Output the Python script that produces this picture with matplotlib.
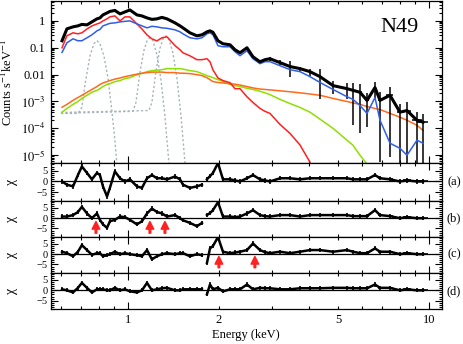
import numpy as np
import matplotlib
matplotlib.use("Agg")
import matplotlib.pyplot as plt
from matplotlib.ticker import FixedLocator, FixedFormatter, NullFormatter, MultipleLocator

plt.rcParams['font.family'] = ['Liberation Serif', 'DejaVu Serif']
plt.rcParams['mathtext.fontset'] = 'stix'

# ---------------- data ----------------
energy = [0.604, 0.627, 0.657, 0.682, 0.703, 0.731, 0.759, 0.789, 0.807, 0.826,
          0.852, 0.871, 0.905, 0.941, 0.977, 1.015, 1.071, 1.113, 1.157, 1.201,
          1.248, 1.297, 1.348, 1.433, 1.489, 1.523, 1.607, 1.695, 1.761, 1.83,
          1.873, 1.916, 1.991, 2.068, 2.183, 2.268, 2.356, 2.485, 2.602, 2.745,
          2.852, 2.963, 3.199, 3.453, 3.728, 4.024, 4.345, 4.799, 5.342, 5.591,
          5.899, 6.224, 6.616, 6.874, 7.42, 8.01, 8.45, 9.12, 9.55]

flux = [0.182, 0.506, 0.60, 0.653, 0.74, 0.711, 0.918, 1.19, 1.29, 1.67,
        1.98, 2.25, 2.45, 1.82, 2.15, 2.55, 1.67, 1.53, 1.29, 1.14,
        1.19, 1.35, 1.19, 0.843, 0.653, 0.55, 0.359, 0.278, 0.303, 0.391,
        0.426, 0.375, 0.182, 0.141, 0.129, 0.084, 0.065, 0.10, 0.046, 0.030,
        0.036, 0.039, 0.028, 0.020, 0.0167, 0.0129, 0.0084, 0.0039, 0.003, 0.0026,
        0.0022, 0.0011, 0.0033, 0.0011, 0.0017, 4.0e-4, 4.6e-4, 2.0e-4, 1.7e-4]

flux_rel_err = [0.04, 0.04, 0.04, 0.04, 0.04, 0.04, 0.04, 0.04, 0.04, 0.04,
                0.04, 0.04, 0.04, 0.04, 0.04, 0.04, 0.04, 0.04, 0.04, 0.04,
                0.04, 0.04, 0.04, 0.04, 0.04, 0.04, 0.04, 0.04, 0.04, 0.06,
                0.06, 0.06, 0.06, 0.06, 0.06, 0.06, 0.06, 0.06, 0.06, 0.10,
                0.10, 0.15, 0.20, 0.60, 0.20, 0.30, 0.85, 0.50, 0.60, 0.95,
                0.97, 0.90, 0.60, 0.995, 0.995, 0.995, 0.995, 0.995, 0.995]

bin_halfwidth = [0.005, 0.005, 0.005, 0.005, 0.005, 0.005, 0.005, 0.005, 0.005, 0.005,
                 0.005, 0.005, 0.005, 0.005, 0.005, 0.005, 0.005, 0.005, 0.005, 0.005,
                 0.005, 0.005, 0.005, 0.005, 0.005, 0.005, 0.005, 0.005, 0.005, 0.01,
                 0.01, 0.01, 0.01, 0.01, 0.01, 0.01, 0.01, 0.01, 0.01, 0.01,
                 0.01, 0.01, 0.01, 0.01, 0.01, 0.01, 0.01, 0.05, 0.05, 0.06,
                 0.07, 0.08, 0.05, 0.08, 0.2, 0.2, 0.25, 0.35, 0.4]

model_blue = [0.067, 0.153, 0.215, 0.182, 0.182, 0.235, 0.303, 0.426, 0.48, 0.653,
              0.74, 0.81, 0.843, 0.918, 0.96, 1.0, 0.774, 0.653, 0.55, 0.63,
              0.60, 0.55, 0.53, 0.464, 0.391, 0.33, 0.235, 0.215, 0.235, 0.33,
              0.359, 0.303, 0.119, 0.109, 0.109, 0.071, 0.0506, 0.0774, 0.039, 0.0255,
              0.0303, 0.0303, 0.0215, 0.0153, 0.0129, 0.0084, 0.0051, 0.0028, 0.0015, 0.0012,
              7.1e-4, 3.6e-4, 1.4e-3, 2.0e-4, 2.8e-5, 1.8e-5, 1.0e-5, 3.6e-5, 2.8e-5]

comp_red = [0.10, 0.28, 0.36, 0.33, 0.36, 0.50, 0.65, 0.77, 0.84, 1.0,
            1.19, 1.41, 1.53, 1.0, 1.41, 1.41, 0.77, 0.50, 0.30, 0.215,
            0.18, 0.235, 0.255, 0.12, 0.084, 0.065, 0.05, 0.036, 0.036, 0.039,
            0.030, 0.015, 0.0075, 0.006, 0.005, 0.003, 0.003, 0.0015, 9.2e-4, 5.5e-4,
            4.3e-4, 3.6e-4, 1.4e-4, 6.5e-5, 2.4e-5, 5.5e-6]

comp_green = [4.0e-4, 5.5e-4, 7.8e-4, 1.0e-3, 1.3e-3, 1.7e-3, 2.2e-3, 2.6e-3, 3.0e-3, 3.6e-3,
              4.3e-3, 4.6e-3, 5.5e-3, 6.0e-3, 7.1e-3, 7.7e-3, 0.010, 0.011, 0.0129, 0.0141,
              0.0146, 0.0153, 0.0167, 0.0167, 0.0167, 0.016, 0.0141, 0.0129, 0.0109, 0.0092,
              0.0084, 0.0077, 0.0065, 0.0055, 0.0043, 0.0039, 0.0036, 0.0031, 0.0028, 0.0024,
              0.0021, 0.0018, 0.0012, 8.4e-4, 6.0e-4, 4.0e-4, 2.2e-4, 1.0e-4, 3.6e-5, 2.35e-5,
              1.0e-5, 4.7e-6]

comp_orange = [6.1e-4, 7.8e-4, 1.1e-3, 1.4e-3, 1.7e-3, 2.2e-3, 2.8e-3, 3.6e-3, 4.3e-3, 4.9e-3,
               5.5e-3, 6.0e-3, 6.8e-3, 7.5e-3, 8.4e-3, 9.2e-3, 0.0104, 0.0113, 0.0119, 0.0124,
               0.0124, 0.0124, 0.0119, 0.0119, 0.0113, 0.0113, 0.0109, 0.0100, 0.0092, 0.0077,
               0.0065, 0.0055, 0.0051, 0.0049, 0.0046, 0.0044, 0.0041, 0.0036, 0.0032, 0.0029,
               0.0028, 0.0027, 0.0025, 0.0023, 0.0021, 0.0019, 0.0017, 0.0013, 0.0010, 8.8e-4,
               7.8e-4, 6.5e-4, 5.5e-4, 5.0e-4, 3.6e-4, 2.6e-4, 2.0e-4, 1.3e-4, 8.4e-5]

gauss1_e = [0.599, 0.682, 0.703, 0.72, 0.748, 0.771, 0.789, 0.807, 0.832, 0.858, 0.884, 0.905, 0.919]
gauss1_v = [3.6e-4, 3.6e-4, 6.0e-4, 4.3e-3, 0.0506, 0.141, 0.182, 0.141, 0.0506, 7.7e-3, 4.6e-4, 3.6e-5, 4.6e-6]
gauss2_e = [0.599, 1.039, 1.063, 1.096, 1.130, 1.157, 1.183, 1.211, 1.248, 1.287, 1.327, 1.368]
gauss2_v = [3.6e-4, 4.3e-4, 9.2e-4, 0.0119, 0.080, 0.182, 0.235, 0.182, 0.055, 6.5e-3, 2.8e-4, 5.1e-6]
gauss3_e = [0.599, 1.174, 1.201, 1.239, 1.277, 1.307, 1.337, 1.368, 1.411, 1.455, 1.5, 1.547]
gauss3_v = [3.9e-4, 4.6e-4, 9.2e-4, 0.0135, 0.094, 0.212, 0.278, 0.212, 0.063, 7.1e-3, 3.0e-4, 5.1e-6]

resid_a = [0, -1.5, -2.3, 3, 7, 4, 1, 4, 3, -2.3,
           -7, -3, 4.7, 1.5, 0, 1, -2.3, -3, 1.5, 3,
           1.5, 1.5, 1, 2.3, 1, -1.5, -3, -2.3, -1.5, 1,
           2.5, 4, 8.6, 1, 1, 0.5, 0, 1.5, 3, 1,
           0.5, 0, 1.5, 1.5, 1, 1.5, 1.5, 1.5, 1.5, 1,
           1, 1, 3, 1.5, 1, 0, 0.5, 0, 0]
resid_b = [0.8, 0.8, 1.5, 3, 5.5, 2.3, 0, 2.3, -0.8, -3,
           -4.7, -1.5, -0.8, 0.8, 0.5, -0.8, -3, -1.5, 2.3, 4.7,
           3, 2.3, 0.8, 1.5, 0, -1, -2.3, -3.9, -2.3, 1.5,
           2.5, 3.9, 7.8, 0.8, 0.8, 0.5, 0.8, 2.3, 3.9, 1.5,
           1, 0.8, 1.5, 1.5, 0.8, 1.5, 1.5, 1.5, 1.5, 1,
           1, 1, 3.9, 1.5, 1, 0, 0.5, 0, 0]
resid_c = [1.2, 0.5, -1, 1.2, 4.4, 2, -0.3, 0.5, 0.5, -1,
           -0.5, 0, 1.2, 0, 0.5, 0, -0.5, -1, 2, -2.5,
           -1, 0, 0.5, 0, 0.5, 0.5, -1, 0, -0.5, -4.2,
           2.8, 4, 8.3, 1.2, 0.5, 0.8, 1.2, 2, 5.2, 2,
           1, 0.5, 1.2, 0.5, 1.2, 2, 2, 1.2, 2, 1.2,
           0.5, 0.5, 2.8, 1.2, 1.2, 0, 0.5, 0, 0]
resid_d = [0.5, 0, -1, 1.2, 3.6, 1.2, -1, 0.5, 0.5, 0.5,
           0, 0, 1.2, 0, 0.5, -0.5, -1, 0, 3.6, 0,
           0.5, 1, 1.2, 0, 0, 0.5, 0.5, 0.5, 0.5, -1.9,
           2.8, 0.5, 1.2, -0.5, 0.5, 0.5, 0.5, 2.8, 0.5, 1.2,
           1, 1, 0.5, 0.5, 1, 1, 1, 1.2, 1.2, 1,
           1, 1, 2.8, 1.2, 1.2, 0, 0.5, 0, 0]

panel_tags = ['(a)', '(b)', '(c)', '(d)']
arrows_b = [0.783, 1.183, 1.327]
arrows_c = [2.005, 2.64]
y_major = [1e-5, 1e-4, 1e-3, 1e-2, 1e-1, 1]
y_major_labels = ['$10^{-5}$', '$10^{-4}$', '$10^{-3}$', '0.01', '0.1', '1']

# ---------------- figure ----------------
W, H = 463, 344
fig = plt.figure(figsize=(W / 100, H / 100), dpi=100)

left = 50.5 / W
width = (441.7 - 50.5) / W
def fy(px):
    return 1 - px / H

ax0 = fig.add_axes([left, fy(163.3), width, fy(1) - fy(163.3)])
bounds = [(163.3, 200.7), (200.7, 236.7), (236.7, 272.7), (272.7, 309.0)]
res_axes = [fig.add_axes([left, fy(b), width, fy(t) - fy(b)], sharex=ax0) for t, b in bounds]

E = np.array(energy)
F = np.array(flux)
RE = np.array(flux_rel_err)
BH = np.array(bin_halfwidth)

grey = '#a9b4b9'
for ge, gv in [(gauss1_e, gauss1_v), (gauss2_e, gauss2_v), (gauss3_e, gauss3_v)]:
    ax0.plot(ge, gv, color=grey, lw=1.0, ls=(0, (1.6, 1.6)))

ax0.plot(E[:len(comp_green)], comp_green, color='#8ee000', lw=1.1)
ax0.plot(E, comp_orange, color='#ff6a1a', lw=1.1)
ax0.plot(E[:len(comp_red)], comp_red, color='#ff2020', lw=1.1)
ax0.errorbar(E, F, yerr=F * RE, xerr=BH, fmt='-', color='black', lw=2.2,
             elinewidth=1.1, capsize=0)
ax0.plot(E, model_blue, color='#2f5ee8', lw=1.1)

ax0.set_xscale('log')
ax0.set_yscale('log')
ax0.set_xlim(0.553, 11.02)
ax0.set_ylim(5e-6, 5.5)
ax0.yaxis.set_major_locator(FixedLocator(y_major))
ax0.yaxis.set_major_formatter(FixedFormatter(y_major_labels))
ax0.yaxis.set_minor_locator(FixedLocator([m * 10.0 ** d for d in range(-6, 1) for m in range(2, 10)]))
ax0.yaxis.set_minor_formatter(NullFormatter())
ax0.set_ylabel(r'Counts s$^{-1}$keV$^{-1}$', fontsize=9)
ax0.yaxis.set_label_coords(-0.092, 0.5)
ax0.text(0.891, 0.834, 'N49', transform=ax0.transAxes, fontsize=16, ha='center', va='center')

x_major = [1, 10]
x_minor = [0.6, 0.7, 0.8, 0.9, 2, 3, 4, 5, 6, 7, 8, 9]

for ax in [ax0] + res_axes:
    ax.xaxis.set_major_locator(FixedLocator(x_major))
    ax.xaxis.set_minor_locator(FixedLocator(x_minor))
    ax.tick_params(which='both', direction='in', top=True, right=True, labelsize=9, width=0.8)
    ax.tick_params(which='major', length=5)
    ax.tick_params(which='minor', length=2.5)
    for s in ax.spines.values():
        s.set_linewidth(0.9)
    ax.tick_params(axis='x', which='both', labelbottom=False)

residuals = [resid_a, resid_b, resid_c, resid_d]
gap = 1.8
for ax, res, tag in zip(res_axes, residuals, panel_tags):
    R = np.array(res)
    ax.axhline(0, color='black', lw=0.9)
    for m in [E < gap, E >= gap]:
        ax.errorbar(E[m], R[m], yerr=1.0, xerr=BH[m], fmt='-', color='black',
                    lw=1.8, elinewidth=1.2, capsize=0)
    ax.set_ylim(-9, 8.5)
    ax.yaxis.set_major_locator(FixedLocator([-5, 0, 5]))
    ax.yaxis.set_minor_locator(MultipleLocator(1))
    ax.tick_params(axis='y', labelsize=7.5, pad=2)
    ax.set_ylabel('χ', fontsize=10)
    ax.yaxis.set_label_coords(-0.082, 0.5)
    ax.text(1.031, 0.5, tag, transform=ax.transAxes, fontsize=9, ha='center', va='center')

arrow_kw = dict(facecolor='#ff2020', edgecolor='#ff2020', width=1.2, headwidth=5.5,
                headlength=5.5, shrink=0)
for e in arrows_b:
    res_axes[1].annotate('', xy=(e, -1.6), xytext=(e, -7.3), arrowprops=arrow_kw)
for e in arrows_c:
    res_axes[2].annotate('', xy=(e, -1.1), xytext=(e, -6.6), arrowprops=arrow_kw)

axd = res_axes[-1]
axd.tick_params(axis='x', which='both', labelbottom=True)
axd.xaxis.set_major_formatter(FixedFormatter(['1', '10']))
axd.xaxis.set_minor_formatter(FixedFormatter(['', '', '', '', '2', '', '', '5', '', '', '', '']))
axd.set_xlabel('Energy (keV)', fontsize=9, labelpad=2)

fig.savefig('out.png', dpi=100)
